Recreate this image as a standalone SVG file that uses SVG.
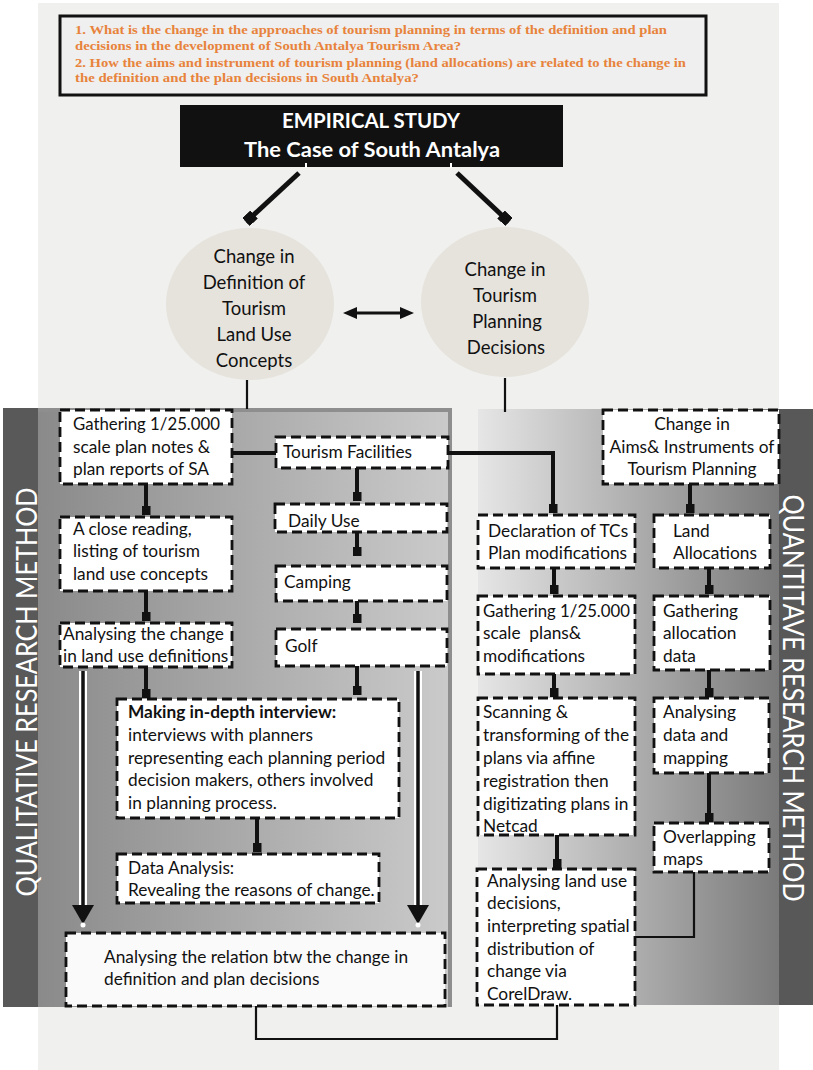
<svg xmlns="http://www.w3.org/2000/svg" width="813" height="1070" viewBox="0 0 813 1070">
  <defs>
    <linearGradient id="gradQual" x1="0" y1="0" x2="1" y2="0">
      <stop offset="0" stop-color="#8a8a8a"/>
      <stop offset="1" stop-color="#cbcbcb"/>
    </linearGradient>
    <linearGradient id="gradQuant" x1="0" y1="0" x2="1" y2="0">
      <stop offset="0" stop-color="#e6e6e6"/>
      <stop offset="1" stop-color="#7a7a7a"/>
    </linearGradient>
    <!-- small square terminal used by the flow connectors -->
    <marker id="sq" markerUnits="userSpaceOnUse" markerWidth="9" markerHeight="9" viewBox="0 0 9 9" refX="9" refY="4.5" orient="auto">
      <rect width="9" height="9" fill="#111"/>
    </marker>
    <!-- larger square terminal on the two diagonal arrows -->
    <marker id="sqBig" markerUnits="userSpaceOnUse" markerWidth="11" markerHeight="11" viewBox="0 0 11 11" refX="11" refY="5.5" orient="auto">
      <rect width="11" height="11" fill="#111"/>
    </marker>
    <marker id="tip" markerUnits="userSpaceOnUse" markerWidth="14" markerHeight="12" viewBox="0 0 14 12" refX="6" refY="6" orient="auto-start-reverse">
      <path d="M0,0 L14,6 L0,12 Z" fill="#111"/>
    </marker>
    <marker id="tri" markerUnits="userSpaceOnUse" markerWidth="19" markerHeight="22" viewBox="0 0 19 22" refX="2" refY="11" orient="auto">
      <path d="M0,0 L19,11 L0,22 Z" fill="#111"/>
    </marker>
  </defs>
  <style>
    .box { fill: #ffffff; stroke: #111; stroke-width: 2.8; stroke-dasharray: 10 5; }
    .t { font-family: Lato, "Open Sans", "Liberation Sans", sans-serif; font-size: 17.3px; fill: #111; }
    .tc { text-anchor: middle; }
    .b { font-weight: bold; }
    .q { font-family: "Liberation Serif", "Times New Roman", serif; font-weight: bold; font-size: 13.5px; fill: #e8833c; }
    .ell { fill: #e6e3dd; }
    .et { font-family: Lato, "Open Sans", sans-serif; font-size: 18.5px; fill: #111; text-anchor: middle; }
    .side { font-family: Lato, "Open Sans", sans-serif; font-size: 28px; fill: #ffffff; text-anchor: middle; }
    .flow { stroke: #111; stroke-width: 4; fill: none; marker-end: url(#sq); }
    .thin { stroke: #111; stroke-width: 2.2; fill: none; }
  </style>

  <!-- page background -->
  <rect x="0" y="0" width="813" height="1070" fill="#ffffff"/>
  <rect x="38" y="3" width="741" height="1067" fill="#f0f0ee"/>

  <!-- qualitative panel -->
  <g id="panel-qualitative">
    <rect x="38" y="408" width="414" height="599" fill="url(#gradQual)"/>
    <path d="M38,410 H450 V1007" fill="none" stroke="#8e8e8e" stroke-width="4"/>
    <rect x="3" y="408" width="35" height="599" fill="#595959"/>
    <text class="side" transform="translate(37,692) rotate(-90)" textLength="409" lengthAdjust="spacingAndGlyphs">QUALITATIVE RESEARCH METHOD</text>
  </g>

  <!-- quantitative panel -->
  <g id="panel-quantitative">
    <rect x="478" y="409" width="301" height="596" fill="url(#gradQuant)"/>
    <rect x="779" y="409" width="34" height="596" fill="#585858"/>
    <text class="side" transform="translate(783,698) rotate(90)" textLength="407" lengthAdjust="spacingAndGlyphs">QUANTITAVE RESEARCH METHOD</text>
  </g>

  <!-- research questions -->
  <g id="questions">
    <rect x="60" y="16" width="646" height="79" fill="#efefef" stroke="#111" stroke-width="3"/>
    <text class="q" x="75" y="34" textLength="592" lengthAdjust="spacingAndGlyphs">1. What is the change in the approaches of tourism planning in terms of the definition and plan</text>
    <text class="q" x="75" y="50" textLength="386" lengthAdjust="spacingAndGlyphs">decisions in  the development of South Antalya Tourism Area?</text>
    <text class="q" x="75" y="66.5" textLength="611" lengthAdjust="spacingAndGlyphs">2. How the aims and instrument of tourism planning (land allocations) are related to the change in</text>
    <text class="q" x="75" y="82" textLength="344" lengthAdjust="spacingAndGlyphs">the definition and the plan decisions in South Antalya?</text>
  </g>

  <!-- header -->
  <g id="empirical-study">
    <rect x="180" y="105" width="383" height="62" fill="#111"/>
    <text x="371" y="128" font-family="Lato, 'Open Sans', sans-serif" font-size="20" font-weight="bold" fill="#fff" text-anchor="middle" textLength="178" lengthAdjust="spacingAndGlyphs">EMPIRICAL STUDY</text>
    <text x="372" y="157" font-family="Lato, 'Open Sans', sans-serif" font-size="21" font-weight="bold" fill="#fff" text-anchor="middle" textLength="256" lengthAdjust="spacingAndGlyphs">The Case of South Antalya</text>
  </g>

  <g id="change-definition">
    <ellipse class="ell" cx="250" cy="304" rx="84" ry="76"/>
    <text class="et" x="254" y="263">Change in</text>
    <text class="et" x="254" y="289">Definition of</text>
    <text class="et" x="254" y="315">Tourism</text>
    <text class="et" x="254" y="341">Land Use</text>
    <text class="et" x="254" y="367">Concepts</text>
  </g>

  <g id="change-decisions">
    <ellipse class="ell" cx="505" cy="302" rx="84" ry="75"/>
    <text class="et" x="505" y="276">Change in</text>
    <text class="et" x="505" y="302">Tourism</text>
    <text class="et" x="507" y="328">Planning</text>
    <text class="et" x="506" y="354">Decisions</text>
  </g>

  <!-- connectors -->
  <g id="connectors">
    <line x1="306" y1="163" x2="306" y2="168" stroke="#fff" stroke-width="2"/>
    <line x1="451" y1="163" x2="451" y2="168" stroke="#fff" stroke-width="2"/>
    <line x1="299" y1="173" x2="246" y2="222" stroke="#111" stroke-width="5" marker-end="url(#sqBig)"/>
    <line x1="457" y1="173" x2="509" y2="222" stroke="#111" stroke-width="5" marker-end="url(#sqBig)"/>
    <line x1="351" y1="313" x2="406" y2="313" stroke="#111" stroke-width="3" marker-start="url(#tip)" marker-end="url(#tip)"/>
    <line class="thin" x1="247" y1="380" x2="247" y2="409"/>
    <line class="thin" x1="505" y1="378" x2="505" y2="412"/>

    <path class="flow" d="M232,453 H553 V513" stroke-width="2.5"/>
    <path class="flow" d="M146,484 V515"/>
    <path class="flow" d="M146,591 V621"/>
    <path class="flow" d="M357,468 V501"/>
    <path class="flow" d="M357,528 V556"/>
    <path class="flow" d="M357,597 V623"/>
    <path class="flow" d="M146,667 V698"/>
    <path class="flow" d="M357,666 V695"/>
    <path class="flow" d="M257,818 V852"/>

    <path class="flow" d="M690,484 V513"/>
    <path class="flow" d="M554,568 V594"/>
    <path class="flow" d="M709,568 V594"/>
    <path class="flow" d="M554,674 V697"/>
    <path class="flow" d="M709,670 V697"/>
    <path class="flow" d="M557,835 V868"/>
    <path class="flow" d="M709,773 V822"/>

    <path class="thin" d="M694,872 V937 H635"/>
    <path class="thin" d="M256,1006 V1039 H557 V1005" stroke-width="2.5"/>

    <!-- long outlined arrows down to the synthesis box -->
    <line x1="83" y1="671" x2="83" y2="910" stroke="#fff" stroke-width="8"/>
    <line x1="418" y1="671" x2="418" y2="910" stroke="#fff" stroke-width="8"/>
    <line x1="83" y1="671" x2="83" y2="907" stroke="#111" stroke-width="3.5" marker-end="url(#tri)"/>
    <line x1="418" y1="671" x2="418" y2="907" stroke="#111" stroke-width="3.5" marker-end="url(#tri)"/>
    <circle cx="83" cy="925" r="2.5" fill="#fff"/>
    <circle cx="418" cy="925" r="2.5" fill="#fff"/>
  </g>

  <!-- qualitative nodes -->
  <g id="gathering-notes">
    <rect class="box" x="60" y="410" width="172" height="74"/>
    <text class="t" x="73" y="430" textLength="147" lengthAdjust="spacingAndGlyphs">Gathering 1/25.000</text>
    <text class="t" x="73" y="453">scale plan notes &amp;</text>
    <text class="t" x="73" y="475">plan reports of SA</text>
  </g>
  <g id="close-reading">
    <rect class="box" x="60" y="517" width="172" height="74"/>
    <text class="t" x="73" y="535">A close reading,</text>
    <text class="t" x="73" y="557">listing of tourism</text>
    <text class="t" x="73" y="580">land use concepts</text>
  </g>
  <g id="analysing-definitions">
    <rect class="box" x="60" y="623" width="172" height="44"/>
    <text class="t" x="63" y="640">Analysing the change</text>
    <text class="t" x="63" y="662">in land use definitions</text>
  </g>
  <g id="tourism-facilities">
    <rect class="box" x="276" y="437" width="172" height="31"/>
    <text class="t" x="283" y="458">Tourism Facilities</text>
  </g>
  <g id="daily-use">
    <rect class="box" x="275" y="504" width="172" height="28"/>
    <text class="t" x="288" y="527">Daily Use</text>
  </g>
  <g id="camping">
    <rect class="box" x="276" y="566" width="171" height="35"/>
    <text class="t" x="284" y="588">Camping</text>
  </g>
  <g id="golf">
    <rect class="box" x="276" y="629" width="171" height="37"/>
    <text class="t" x="285" y="652">Golf</text>
  </g>
  <g id="interviews">
    <rect class="box" x="117" y="699" width="282" height="119"/>
    <text class="t b" x="128" y="718">Making in-depth interview:</text>
    <text class="t" x="128" y="741">interviews with planners</text>
    <text class="t" x="128" y="763.5">representing each planning period</text>
    <text class="t" x="128" y="786">decision makers, others involved</text>
    <text class="t" x="128" y="809">in planning process.</text>
  </g>
  <g id="data-analysis">
    <rect class="box" x="117" y="854" width="262" height="49"/>
    <text class="t" x="128" y="874">Data Analysis:</text>
    <text class="t" x="128" y="896">Revealing the reasons of change.</text>
  </g>
  <g id="relation-analysis">
    <rect class="box" x="66" y="933" width="379" height="73" style="fill:#fafafa"/>
    <text class="t" x="104" y="963">Analysing the relation btw the change in</text>
    <text class="t" x="104" y="985">definition and plan decisions</text>
  </g>

  <!-- quantitative nodes -->
  <g id="aims-instruments">
    <rect class="box" x="603" y="410" width="176" height="74"/>
    <text class="t tc" x="692" y="430">Change in</text>
    <text class="t tc" x="692" y="453">Aims&amp; Instruments of</text>
    <text class="t tc" x="692" y="475">Tourism Planning</text>
  </g>
  <g id="declaration">
    <rect class="box" x="478" y="515" width="157" height="53"/>
    <text class="t" x="488" y="537">Declaration of TCs</text>
    <text class="t" x="488" y="559">Plan modifications</text>
  </g>
  <g id="land-allocations">
    <rect class="box" x="654" y="515" width="116" height="53"/>
    <text class="t" x="673" y="537">Land</text>
    <text class="t" x="673" y="559">Allocations</text>
  </g>
  <g id="gathering-plans">
    <rect class="box" x="478" y="596" width="157" height="78"/>
    <text class="t" x="483" y="617" textLength="147" lengthAdjust="spacingAndGlyphs">Gathering 1/25.000</text>
    <text class="t" x="483" y="639" xml:space="preserve">scale  plans&amp;</text>
    <text class="t" x="483" y="662">modifications</text>
  </g>
  <g id="gathering-allocation">
    <rect class="box" x="654" y="596" width="116" height="74"/>
    <text class="t" x="663" y="617">Gathering</text>
    <text class="t" x="663" y="639">allocation</text>
    <text class="t" x="663" y="662">data</text>
  </g>
  <g id="scanning">
    <rect class="box" x="478" y="698" width="157" height="137"/>
    <text class="t" x="483" y="718">Scanning &amp;</text>
    <text class="t" x="483" y="741">transforming of the</text>
    <text class="t" x="483" y="764">plans via affine</text>
    <text class="t" x="483" y="787">registration then</text>
    <text class="t" x="483" y="810">digitizating plans in</text>
    <text class="t" x="483" y="832">Netcad</text>
  </g>
  <g id="analysing-data">
    <rect class="box" x="654" y="698" width="115" height="75"/>
    <text class="t" x="663" y="718">Analysing</text>
    <text class="t" x="663" y="741">data and</text>
    <text class="t" x="663" y="764">mapping</text>
  </g>
  <g id="overlapping">
    <rect class="box" x="654" y="823" width="115" height="49"/>
    <text class="t" x="663" y="843">Overlapping</text>
    <text class="t" x="663" y="865">maps</text>
  </g>
  <g id="land-use-decisions">
    <rect class="box" x="477" y="869" width="158" height="136"/>
    <text class="t" x="487" y="887">Analysing land use</text>
    <text class="t" x="487" y="909">decisions,</text>
    <text class="t" x="487" y="932">interpreting spatial</text>
    <text class="t" x="487" y="955">distribution of</text>
    <text class="t" x="487" y="977">change via</text>
    <text class="t" x="487" y="1000">CorelDraw.</text>
  </g>
</svg>
